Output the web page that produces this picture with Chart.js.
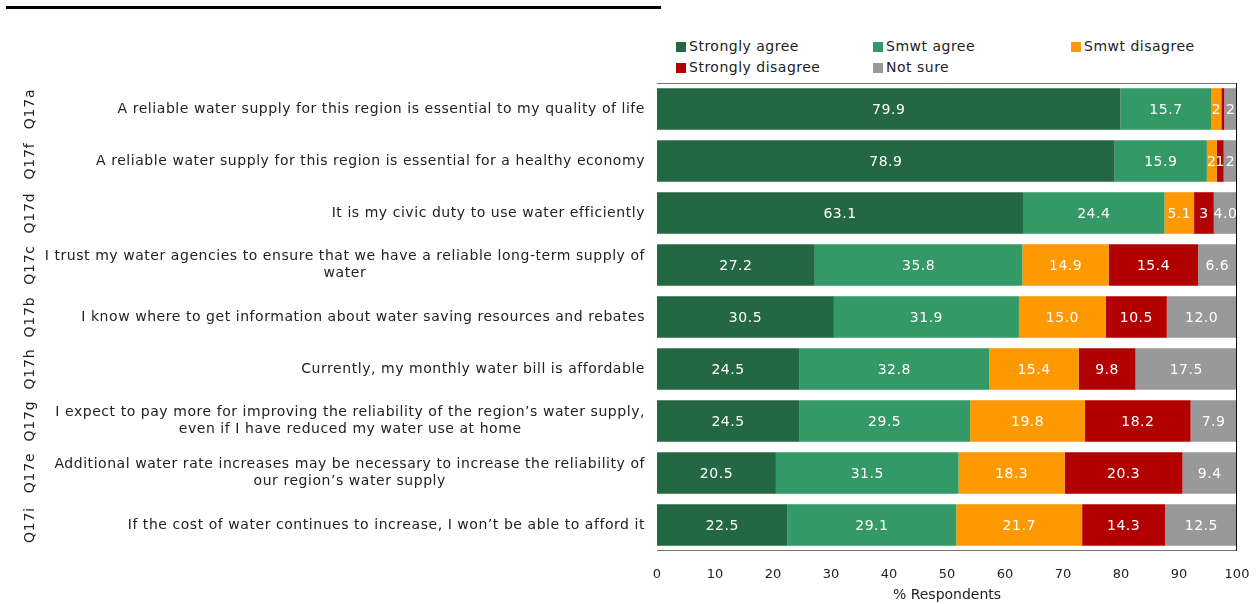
<!DOCTYPE html>
<html>
<head>
<meta charset="utf-8">
<script src="https://cdn.jsdelivr.net/npm/chart.js@4.4.0/dist/chart.umd.min.js"></script>
<style>
  html, body { margin: 0; padding: 0; background: #fff; }
  #wrap { position: relative; width: 1258px; height: 604px; font-family: "DejaVu Sans", sans-serif; }
  #rule { position: absolute; left: 6px; top: 6px; width: 655px; height: 3px; background: #000; }
  #legend { position: absolute; left: 676px; top: 37px; width: 580px; font-size: 14px; color: #222; letter-spacing: 0.5px; }
  #legend .item { position: absolute; white-space: nowrap; line-height: 18px; }
  #legend .box { display: inline-block; width: 10px; height: 10px; margin-right: 3px; vertical-align: -1px; }
  canvas { position: absolute; left: 0; top: 0; }
</style>
</head>
<body>
<div id="wrap">
  <div id="rule"></div>
  <div id="legend"></div>
  <canvas id="myChart" width="1258" height="604"></canvas>
</div>
<script>
// question codes and statements (top to bottom)
const codes = ['Q17a', 'Q17f', 'Q17d', 'Q17c', 'Q17b', 'Q17h', 'Q17g', 'Q17e', 'Q17i'];
const statements = [
    ['A reliable water supply for this region is essential to my quality of life'],
    ['A reliable water supply for this region is essential for a healthy economy'],
    ['It is my civic duty to use water efficiently'],
    ['I trust my water agencies to ensure that we have a reliable long-term supply of', 'water'],
    ['I know where to get information about water saving resources and rebates'],
    ['Currently, my monthly water bill is affordable'],
    ['I expect to pay more for improving the reliability of the region\u2019s water supply,', 'even if I have reduced my water use at home'],
    ['Additional water rate increases may be necessary to increase the reliability of', 'our region\u2019s water supply'],
    ['If the cost of water continues to increase, I won\u2019t be able to afford it']
];

// % respondents per answer
const stronglyAgree    = [79.9, 78.9, 63.1, 27.2, 30.5, 24.5, 24.5, 20.5, 22.5];
const smwtAgree        = [15.7, 15.9, 24.4, 35.8, 31.9, 32.8, 29.5, 31.5, 29.1];
const smwtDisagree     = [1.7, 1.7, 5.1, 14.9, 15.0, 15.4, 19.8, 18.3, 21.7];
const stronglyDisagree = [0.5, 1.2, 3.4, 15.4, 10.5, 9.8, 18.2, 20.3, 14.3];
const notSure          = [2.2, 2.3, 4.0, 6.6, 12.0, 17.5, 7.9, 9.4, 12.5];

const xTicks = [0, 10, 20, 30, 40, 50, 60, 70, 80, 90, 100];

const seriesNames = ['Strongly agree', 'Smwt agree', 'Smwt disagree', 'Strongly disagree', 'Not sure'];
const seriesColors = ['#236843', '#339966', '#ff9900', '#b30000', '#999999'];
const seriesData = [stronglyAgree, smwtAgree, smwtDisagree, stronglyDisagree, notSure];

// legend, three columns
const legendSpots = [[0, 0], [197, 0], [395, 0], [0, 21], [197, 21]];
const legendEl = document.getElementById('legend');
seriesNames.forEach(function (name, i) {
    const d = document.createElement('div');
    d.className = 'item';
    d.style.left = legendSpots[i][0] + 'px';
    d.style.top = legendSpots[i][1] + 'px';
    d.innerHTML = '<span class="box" style="background:' + seriesColors[i] + '"></span>' + name;
    legendEl.appendChild(d);
});

const FONT = '"DejaVu Sans", sans-serif';

// labels inside segments, question text, codes and frame
const extrasPlugin = {
    id: 'extras',
    afterDatasetsDraw: function (chart) {
        const ctx = chart.ctx;
        ctx.save();
        ctx.font = '14px ' + FONT;
        ctx.letterSpacing = '0.5px';
        ctx.fillStyle = '#ffffff';
        ctx.textAlign = 'center';
        ctx.textBaseline = 'middle';
        chart.data.datasets.forEach(function (ds, di) {
            const meta = chart.getDatasetMeta(di);
            meta.data.forEach(function (bar, i) {
                const v = ds.data[i];
                if (v < 1) return;
                const txt = v < 3.5 ? String(Math.round(v)) : v.toFixed(1);
                const cx = (bar.x + bar.base) / 2;
                ctx.fillText(txt, cx, bar.y + 1);
            });
        });
        ctx.restore();
    },
    afterDraw: function (chart) {
        const ctx = chart.ctx;
        const area = chart.chartArea;
        const yScale = chart.scales.y;
        ctx.save();
        // frame
        ctx.strokeStyle = '#777';
        ctx.lineWidth = 1;
        ctx.beginPath();
        ctx.moveTo(area.left, area.top + 0.5);
        ctx.lineTo(area.right - 0.5, area.top + 0.5);
        ctx.moveTo(area.left, area.bottom - 0.5);
        ctx.lineTo(area.right - 0.5, area.bottom - 0.5);
        ctx.stroke();
        ctx.strokeStyle = '#111';
        ctx.beginPath();
        ctx.moveTo(area.right - 0.5, area.top);
        ctx.lineTo(area.right - 0.5, area.bottom);
        ctx.stroke();

        // statements, each block centred on its own widest line, right edge at 645
        ctx.font = '14px ' + FONT;
        ctx.letterSpacing = '0.55px';
        ctx.fillStyle = '#222';
        ctx.textAlign = 'center';
        ctx.textBaseline = 'middle';
        const lh = 17;
        statements.forEach(function (lines, i) {
            const cy = yScale.getPixelForValue(i);
            let w = 0;
            lines.forEach(function (l) { w = Math.max(w, ctx.measureText(l).width); });
            const cx = area.left - 12 - w / 2;
            const y0 = cy - (lines.length - 1) * lh / 2;
            lines.forEach(function (l, k) { ctx.fillText(l, cx, y0 + k * lh); });
        });

        // rotated codes
        ctx.font = '14px ' + FONT;
        ctx.letterSpacing = '0.8px';
        codes.forEach(function (c, i) {
            const cy = yScale.getPixelForValue(i);
            ctx.save();
            ctx.translate(30, cy);
            ctx.rotate(-Math.PI / 2);
            ctx.fillText(c, 0, 0);
            ctx.restore();
        });
        ctx.restore();
    }
};

const ctx = document.getElementById('myChart').getContext('2d');
const myChart = new Chart(ctx, {
    type: 'bar',
    data: {
        labels: codes,
        datasets: seriesNames.map(function (name, i) {
            return {
                label: name,
                data: seriesData[i],
                backgroundColor: seriesColors[i],
                borderWidth: 0,
                categoryPercentage: 0.8,
                barPercentage: 1.0
            };
        })
    },
    options: {
        indexAxis: 'y',
        responsive: false,
        animation: false,
        layout: { padding: { top: 83, right: 21, bottom: 0, left: 0 } },
        scales: {
            x: {
                stacked: true,
                min: 0,
                max: 100,
                afterBuildTicks: function (scale) {
                    scale.ticks = xTicks.map(function (v) { return { value: v }; });
                },
                afterFit: function (scale) {
                    scale.height = 53;
                    scale.paddingLeft = 0;
                    scale.paddingRight = 0;
                },
                grid: { display: false, drawTicks: false },
                border: { display: false },
                ticks: {
                    padding: 16,
                    color: '#222',
                    font: { family: FONT, size: 13 },
                    maxRotation: 0
                },
                title: {
                    display: true,
                    text: '% Respondents',
                    color: '#222',
                    font: { family: FONT, size: 14 },
                    padding: { top: 0, bottom: 0 }
                }
            },
            y: {
                stacked: true,
                afterFit: function (scale) { scale.width = 657; },
                grid: { display: false, drawTicks: false },
                border: { display: false },
                ticks: { display: false }
            }
        },
        plugins: {
            legend: { display: false },
            tooltip: { enabled: false }
        }
    },
    plugins: [extrasPlugin]
});
</script>
</body>
</html>
